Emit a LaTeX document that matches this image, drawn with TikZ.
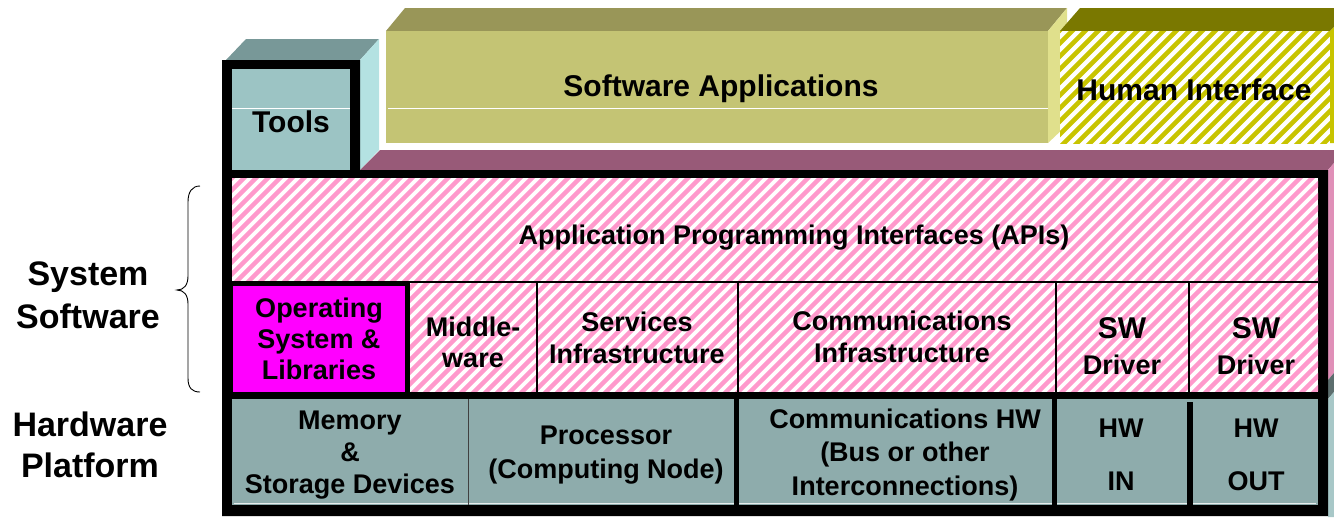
\documentclass[tikz,border=0pt]{standalone}
\usepackage{fontspec}
\setmainfont{Liberation Sans}
\definecolor{toolsfront}{HTML}{9CC4C4}
\definecolor{toolstop}{HTML}{789898}
\definecolor{toolsside}{HTML}{B4E2E2}
\definecolor{appfront}{HTML}{C4C474}
\definecolor{apptop}{HTML}{999658}
\definecolor{appside}{HTML}{E0E08C}
\definecolor{histripe}{HTML}{C8C400}
\definecolor{hitop}{HTML}{7A7800}
\definecolor{purpletop}{HTML}{985A78}
\definecolor{pinkside}{HTML}{E090B8}
\definecolor{pinkstripe}{HTML}{FF99CC}
\definecolor{osmag}{HTML}{FF00FF}
\definecolor{hwfill}{HTML}{8EACAC}
\definecolor{tealside}{HTML}{A8C8C8}
\begin{document}
\begin{tikzpicture}[x=1pt,y=-1pt,
  txt/.style={align=center, inner sep=0pt, font=\fontsize{27}{32}\selectfont\bfseries},
  bigtxt/.style={align=center, inner sep=0pt, font=\fontsize{30}{34}\selectfont\bfseries},
  sidetxt/.style={align=center, inner sep=0pt, font=\fontsize{34}{42}\selectfont\bfseries},
  divider/.style={draw=black, line width=1.2pt},
  hwdiv/.style={draw=black!75, line width=1.5pt},
  highlight/.style={draw=white, line width=1pt}]
\useasboundingbox (0,0) rectangle (1334,517);

% ---------- Tools block (3D) ----------
\fill[toolstop] (226,60) -- (246,39) -- (379,39) -- (360,60) -- cycle;
\fill[toolsside] (360,60) -- (379,39) -- (379,150) -- (360,170) -- cycle;

% ---------- Software Applications block ----------
\fill[apptop] (386,31) -- (405,8) -- (1067,8) -- (1048,31) -- cycle;
\fill[appside] (1048,31) -- (1067,8) -- (1067,125) -- (1048,143) -- cycle;
\fill[appfront] (386,31) rectangle (1048,143);
\draw[highlight] (388,108) -- (1048,108);

% ---------- Human Interface block ----------
\fill[hitop] (1060,31) -- (1080,8) -- (1334,8) -- (1334,27) -- (1330,31) -- cycle;
\fill[histripe] (1330,31) -- (1334,27) -- (1334,143) -- (1330,143) -- cycle;
\fill[white] (1060,31) rectangle (1330,143);
\begin{scope}
  \clip (1060,31) rectangle (1330,143);
  \foreach \i in {0,...,32} {
    \draw[histripe, line width=4.6pt] ({940+\i*13},150) -- ++(130,-130);
  }
\end{scope}

% ---------- System software block top and side faces ----------
\fill[purpletop] (360,170) -- (380,150) -- (1334,150) -- (1334,163) -- (1328,170) -- cycle;
\fill[pinkside] (1328,170) -- (1334,163) -- (1334,373) -- (1328,380) -- cycle;
\fill[black!45!tealside] (1328,380) -- (1334,373) -- (1334,392) -- (1328,399) -- cycle;
\fill[tealside] (1328,399) -- (1334,392) -- (1334,517) -- (1328,517) -- cycle;

% ---------- Black frame ----------
\fill[black] (222,60) -- (360,60) -- (360,170) -- (1328,170) -- (1328,516) -- (222,516) -- cycle;

% Tools front face
\fill[toolsfront] (232,69) rectangle (350,170);
\draw[highlight] (232,108) -- (350,108);

% ---------- Hatched software area ----------
\fill[white] (232,178) rectangle (1318,393);
\begin{scope}
  \clip (232,178) rectangle (1318,393);
  \foreach \i in {0,...,112} {
    \draw[pinkstripe, line width=4.3pt] ({-2+\i*12},400) -- ++(230,-230);
  }
\end{scope}
\draw[divider] (232,282) -- (1318,282);
\draw[divider] (537,282) -- (537,393);
\draw[divider] (738,282) -- (738,393);
\draw[divider] (1056,282) -- (1056,393);
\draw[divider] (1189,282) -- (1189,393);

% Operating system box
\fill[black] (232,281) rectangle (410,393);
\fill[osmag] (233,285.5) rectangle (405,393);
\fill[black] (232,392) rectangle (1318,399);

% ---------- Hardware row ----------
\fill[hwfill] (232,399) rectangle (1318,505);
\draw[white!80!hwfill, line width=1pt] (234,503.5) -- (1316,503.5);
\draw[hwdiv] (468.5,399) -- (468.5,505);
\fill[black] (734,399) rectangle (739,505);
\fill[black] (1052,399) rectangle (1057,505);
\fill[black] (1187,402) rectangle (1193,505);

% ---------- Texts ----------
\node[bigtxt] (tools) at (291,122) {Tools};
\node[bigtxt] (apps) at (721,89) {Software Applications};
\node[bigtxt] (hi) at (1194,90) {Human Interface};
\node[txt] (api) at (794,238) {Application Programming Interfaces (APIs)};
\node[txt, font=\fontsize{27}{31}\selectfont\bfseries] (os) at (319,339) {Operating\\System \&\\Libraries};
\node[txt, font=\fontsize{27}{31}\selectfont\bfseries] (mw) at (473,342) {Middle-\\ware};
\node[txt] (svc) at (637,338) {Services\\Infrastructure};
\node[txt] (comm) at (902,337) {Communications\\Infrastructure};
\node[txt, font=\fontsize{27}{36}\selectfont\bfseries] (drv1) at (1122,346) {{\fontsize{30}{36}\selectfont SW}\\Driver};
\node[txt, font=\fontsize{27}{36}\selectfont\bfseries] (drv2) at (1256,346) {{\fontsize{30}{36}\selectfont SW}\\Driver};
\node[txt] (mem) at (350,455) {Memory\\\&\\Storage Devices};
\node[txt, font=\fontsize{27}{34}\selectfont\bfseries] (proc) at (606,455) {Processor\\(Computing Node)};
\node[txt, font=\fontsize{27}{33.5}\selectfont\bfseries] (commhw) at (905,455) {Communications HW\\(Bus or other\\Interconnections)};
\node[txt, font=\fontsize{27}{53}\selectfont\bfseries] (hwin) at (1121,455) {HW\\IN};
\node[txt, font=\fontsize{27}{53}\selectfont\bfseries] (hwout) at (1256,455) {HW\\OUT};

\node[sidetxt, font=\fontsize{34}{43}\selectfont\bfseries] (sys) at (88,295) {System\\Software};
\node[sidetxt, font=\fontsize{34}{41}\selectfont\bfseries] (hwp) at (90,445) {Hardware\\Platform};

% Brace
\coordinate (bt) at (200,186);
\coordinate (bb) at (200,392);
\coordinate (btip) at (177,290);
\draw[line width=0.9pt] (bt) .. controls (192,186) and (188,192) .. (188,202)
  -- (188,276) .. controls (188,285) and (184,290) .. (btip)
  .. controls (184,290) and (188,295) .. (188,304)
  -- (188,378) .. controls (188,388) and (192,392) .. (bb);
\end{tikzpicture}
\end{document}
